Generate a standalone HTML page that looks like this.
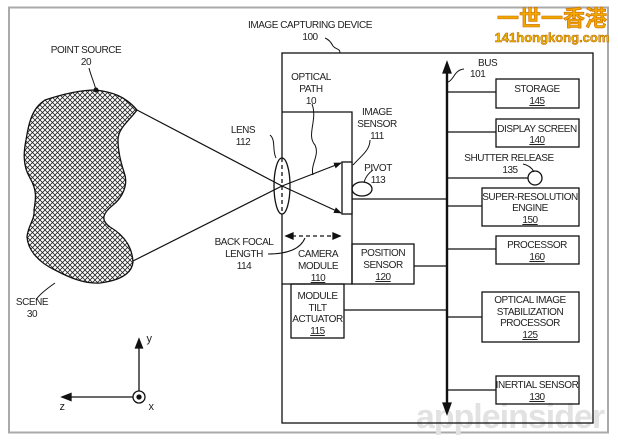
<!DOCTYPE html>
<html><head><meta charset="utf-8"><style>
html,body{margin:0;padding:0;background:#fff;width:618px;height:444px;overflow:hidden}
svg{display:block}
text{font-family:"Liberation Sans",Arial,sans-serif;font-size:10px;fill:#222;text-anchor:middle;letter-spacing:-0.45px}
</style></head><body>
<svg width="618" height="444" viewBox="0 0 618 444" xmlns="http://www.w3.org/2000/svg">
<defs>
<pattern id="hatch" width="5" height="5" patternUnits="userSpaceOnUse">
<path d="M0,0 L5,5 M5,0 L0,5" stroke="#222" stroke-width="0.8"/>
</pattern>
<marker id="ah" markerWidth="8" markerHeight="8" refX="7" refY="4" orient="auto" markerUnits="userSpaceOnUse"><path d="M0,1 L8,4 L0,7 Z" fill="#111"/></marker>
</defs>
<rect x="9" y="7.5" width="599" height="425" fill="none" stroke="#aaa" stroke-width="2"/>

<!-- logo -->
<text x="552" y="26" style="font-family:'Noto Sans CJK SC',sans-serif;font-size:22px;font-weight:bold;fill:#f3a800;stroke:#c86a00;stroke-width:0.6;letter-spacing:0">一世一香港</text>
<text x="552" y="42" style="font-size:13px;font-weight:bold;fill:#f3b800;stroke:#b06000;stroke-width:0.5;letter-spacing:0">141hongkong.com</text>

<!-- watermark -->
<text x="510" y="428" style="font-size:34px;font-weight:bold;fill:#e2e2e2;letter-spacing:-1px">appleinsider</text>

<g stroke="#111" fill="none" stroke-width="1.3">
<!-- scene -->
<path d="M45,100 C60,95 80,90 96,90 C112,92 125,96 137,110 C130,120 118,128 118,140 C118,150 120,160 124,172 C129,185 122,198 113,205 C103,213 100,220 110,227 C122,234 132,245 133,262 C132,272 123,280 100,283 C85,284 70,278 55,270 C38,262 28,250 27,237 C28,225 35,220 34,210 C36,198 37,190 30,178 C22,165 24,150 26,140 C28,128 30,118 35,110 C38,105 42,102 45,100 Z" fill="url(#hatch)"/>
<circle cx="96" cy="90" r="1.8" fill="#111"/>
<path d="M89,68 C91,76 94,82 96,90" stroke-width="1"/>
<path d="M55,283 C45,290 38,296 36,300" stroke-width="1"/>

<!-- device -->
<rect x="282" y="53" width="311" height="370"/>
<path d="M325,38 C330,40 332,44 333,46 C336,50 340,48 340,53" stroke-width="1"/>
<!-- camera module -->
<path d="M282,112 L352,112 L352,284 L282,284"/>
<rect x="342" y="162" width="10" height="52" fill="#fff"/>
<ellipse cx="282" cy="186" rx="8" ry="28" fill="#fff"/>
<line x1="282" y1="158" x2="282" y2="214" stroke-dasharray="4,3"/>
<!-- rays -->
<line x1="137" y1="110" x2="282" y2="186" stroke-width="1.2"/>
<line x1="133" y1="261" x2="282" y2="186" stroke-width="1.2"/>
<line x1="282" y1="186" x2="341" y2="213" marker-end="url(#ah)" stroke-width="1.2"/>
<line x1="282" y1="186" x2="341" y2="163" marker-end="url(#ah)" stroke-width="1.2"/>
<path d="M312,104 C318,120 306,135 315,145 C320,155 310,165 313,175" stroke-width="1"/>
<path d="M270,135 C276,140 272,150 276,158" stroke-width="1"/>
<path d="M370,140 C370,150 362,155 353,165" stroke-width="1"/>
<ellipse cx="362" cy="189" rx="10" ry="7"/>
<path d="M364,182 C366,176 370,172 373,170" stroke-width="1"/>
<line x1="352" y1="199" x2="447" y2="199"/>
<!-- back focal -->
<line x1="292" y1="236" x2="334" y2="236" stroke-dasharray="4,3"/>
<path d="M286,236 L293,233 L293,239 Z" fill="#111"/>
<path d="M340,236 L333,233 L333,239 Z" fill="#111"/>
<path d="M268,254 C285,254 300,250 305,238" stroke-width="1"/>
<!-- position sensor -->
<rect x="352" y="244" width="62" height="40"/>
<line x1="414" y1="266" x2="447" y2="266"/>
<!-- tilt actuator -->
<rect x="291" y="284" width="53" height="54"/>
<line x1="344" y1="310" x2="447" y2="310"/>
<!-- bus -->
<line x1="447" y1="72" x2="447" y2="406" stroke-width="2.4"/>
<path d="M447,62 L443,73 L451,73 Z" fill="#111"/>
<path d="M447,414 L443,403 L451,403 Z" fill="#111"/>
<path d="M448,82 C454,80 454,70 464,69" stroke-width="1"/>
<!-- right boxes -->
<rect x="496" y="79" width="83" height="29"/>
<line x1="447" y1="92" x2="496" y2="92"/>
<rect x="496" y="119" width="83" height="28"/>
<line x1="447" y1="132" x2="496" y2="132"/>
<circle cx="535" cy="178" r="7"/>
<line x1="447" y1="178" x2="528" y2="178"/>
<path d="M523,164 C528,165 532,168 534,172" stroke-width="1"/>
<rect x="482" y="188" width="97" height="38"/>
<line x1="447" y1="206" x2="482" y2="206"/>
<rect x="496" y="236" width="83" height="28"/>
<line x1="447" y1="249" x2="496" y2="249"/>
<rect x="482" y="292" width="97" height="50"/>
<line x1="447" y1="317" x2="482" y2="317"/>
<rect x="496" y="376" width="83" height="28"/>
<line x1="447" y1="390" x2="496" y2="390"/>
<!-- axes -->
<line x1="139" y1="391" x2="139" y2="346"/>
<path d="M139,339 L135.5,348 L142.5,348 Z" fill="#111"/>
<line x1="133" y1="397" x2="70" y2="397"/>
<path d="M62,397 L71,393.5 L71,400.5 Z" fill="#111"/>
<circle cx="139" cy="397" r="6"/>
<circle cx="139" cy="397" r="2" fill="#111"/>
</g>

<g>
<text x="310" y="28">IMAGE CAPTURING DEVICE</text>
<text x="310" y="40">100</text>
<text x="86" y="53">POINT SOURCE</text>
<text x="86" y="65">20</text>
<text x="311" y="80">OPTICAL</text>
<text x="311" y="92">PATH</text>
<text x="311" y="104">10</text>
<text x="377" y="115">IMAGE</text>
<text x="377" y="127">SENSOR</text>
<text x="377" y="139">111</text>
<text x="378" y="171">PIVOT</text>
<text x="378" y="183">113</text>
<text x="243" y="133">LENS</text>
<text x="243" y="145">112</text>
<text x="244" y="245">BACK FOCAL</text>
<text x="244" y="257">LENGTH</text>
<text x="244" y="269">114</text>
<text x="32" y="305">SCENE</text>
<text x="32" y="317">30</text>
<text x="318" y="257">CAMERA</text>
<text x="318" y="269">MODULE</text>
<text x="318" y="281" text-decoration="underline">110</text>
<text x="383" y="256">POSITION</text>
<text x="383" y="268">SENSOR</text>
<text x="383" y="280" text-decoration="underline">120</text>
<text x="317.5" y="299">MODULE</text>
<text x="317.5" y="311">TILT</text>
<text x="317.5" y="322">ACTUATOR</text>
<text x="317.5" y="334" text-decoration="underline">115</text>
<text x="478" y="66" style="text-anchor:start">BUS</text>
<text x="470" y="77" style="text-anchor:start">101</text>
<text x="537" y="92">STORAGE</text>
<text x="537" y="104" text-decoration="underline">145</text>
<text x="537" y="132">DISPLAY SCREEN</text>
<text x="537" y="143" text-decoration="underline">140</text>
<text x="509" y="161">SHUTTER RELEASE</text>
<text x="510" y="173">135</text>
<text x="530" y="200">SUPER-RESOLUTION</text>
<text x="530" y="211">ENGINE</text>
<text x="530" y="223" text-decoration="underline">150</text>
<text x="537" y="248">PROCESSOR</text>
<text x="537" y="260" text-decoration="underline">160</text>
<text x="530" y="303">OPTICAL IMAGE</text>
<text x="530" y="315">STABILIZATION</text>
<text x="530" y="326">PROCESSOR</text>
<text x="530" y="338" text-decoration="underline">125</text>
<text x="537" y="388">INERTIAL SENSOR</text>
<text x="537" y="400" text-decoration="underline">130</text>
<text x="149" y="342" style="font-size:11px">y</text>
<text x="62" y="410" style="font-size:11px">z</text>
<text x="151" y="410" style="font-size:11px">x</text>
</g>
</svg>
</body></html>
